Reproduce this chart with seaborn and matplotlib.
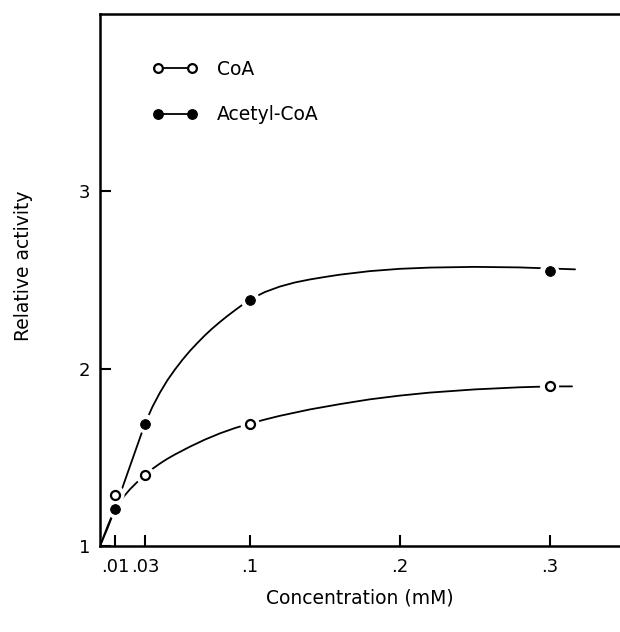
import matplotlib
matplotlib.use("Agg")
import matplotlib.pyplot as plt
from matplotlib.lines import Line2D
import seaborn as sns
import pandas as pd

# measured points
conc = [0.01, 0.03, 0.1, 0.3]
coa_vals = [1.29, 1.40, 1.69, 1.90]
acetyl_vals = [1.21, 1.69, 2.39, 2.55]

# hand-drawn fitted curves
coa_curve_x = [0.0, 0.005, 0.01, 0.015, 0.02, 0.025, 0.03, 0.035, 0.04, 0.045, 0.05, 0.06,
               0.07, 0.08, 0.09, 0.1, 0.11, 0.12, 0.14, 0.16, 0.18, 0.2, 0.22, 0.25,
               0.28, 0.3, 0.315]
coa_curve_y = [1.0, 1.11, 1.21, 1.27, 1.32, 1.362, 1.40, 1.435, 1.465, 1.492, 1.516, 1.56,
               1.60, 1.635, 1.665, 1.69, 1.713, 1.734, 1.77, 1.80, 1.827, 1.848, 1.865, 1.883,
               1.895, 1.90, 1.90]
acetyl_curve_x = [0.0, 0.005, 0.01, 0.02, 0.03, 0.035, 0.04, 0.045, 0.05, 0.055, 0.06, 0.065,
                  0.07, 0.075, 0.08, 0.085, 0.09, 0.095, 0.1, 0.11, 0.12, 0.13, 0.14, 0.15,
                  0.16, 0.18, 0.2, 0.22, 0.25, 0.28, 0.3, 0.317]
acetyl_curve_y = [1.0, 1.10, 1.21, 1.45, 1.69, 1.785, 1.865, 1.935, 1.995, 2.05, 2.10, 2.145,
                  2.188, 2.227, 2.263, 2.297, 2.329, 2.36, 2.39, 2.432, 2.463, 2.486, 2.503, 2.517,
                  2.53, 2.55, 2.563, 2.57, 2.574, 2.571, 2.565, 2.56]

xticks = [0.01, 0.03, 0.1, 0.2, 0.3]
xtick_labels = [".01", ".03", ".1", ".2", ".3"]
yticks = [1, 2, 3]
ytick_labels = ["1", "2", "3"]

sns.set_style("white")
plt.rcParams['font.family'] = ['DejaVu Sans']
plt.rcParams['text.color'] = 'black'

fig = plt.figure(figsize=(6.2, 6.32), dpi=100)
ax = fig.add_axes([100 / 620, 86 / 632, 520 / 620, (546 - 14) / 632])

df_coa = pd.DataFrame({"x": coa_curve_x, "y": coa_curve_y})
df_ac = pd.DataFrame({"x": acetyl_curve_x, "y": acetyl_curve_y})
sns.lineplot(data=df_coa, x="x", y="y", ax=ax, color="black", lw=1.3, sort=False, zorder=2)
sns.lineplot(data=df_ac, x="x", y="y", ax=ax, color="black", lw=1.3, sort=False, zorder=2)

pts = pd.DataFrame({"x": conc + conc,
                    "y": coa_vals + acetyl_vals,
                    "s": ["CoA"] * 4 + ["Acetyl-CoA"] * 4})
# white halos create the gaps in the curves around the points
sns.scatterplot(data=pts, x="x", y="y", ax=ax, s=190, color="white", edgecolor="none",
                zorder=3, legend=False)
sns.scatterplot(data=pts[pts.s == "CoA"], x="x", y="y", ax=ax, s=42, facecolor="white",
                edgecolor="black", linewidth=1.6, zorder=4, legend=False)
sns.scatterplot(data=pts[pts.s == "Acetyl-CoA"], x="x", y="y", ax=ax, s=50, color="black",
                edgecolor="black", zorder=4, legend=False)

ax.set_xlim(0, 0.347)
ax.set_ylim(1, 4)
ax.set_xticks(xticks)
ax.set_xticklabels(xtick_labels)
ax.set_yticks(yticks)
ax.set_yticklabels(ytick_labels)
ax.tick_params(axis="both", direction="in", length=8, width=1.5, labelsize=13,
               colors="black", bottom=True, left=True)
ax.tick_params(axis="x", pad=9)
ax.tick_params(axis="y", pad=7)
for side in ["left", "bottom", "top"]:
    ax.spines[side].set_visible(True)
    ax.spines[side].set_linewidth(1.8)
    ax.spines[side].set_color("black")
ax.spines["right"].set_visible(False)

ax.set_xlabel("Concentration (mM)", fontsize=13.5, color="black")
ax.set_ylabel("Relative activity", fontsize=13.5, color="black")
ax.xaxis.set_label_coords(0.5, (546 - 589) / 532)
ax.yaxis.set_label_coords((33 - 100) / 520, (546 - 266) / 532)

handles = [
    Line2D([], [], color="black", lw=1.3, marker="o", markersize=6.3,
           markerfacecolor="white", markeredgecolor="black", markeredgewidth=1.6),
    Line2D([], [], color="black", lw=1.3, marker="o", markersize=6.8,
           markerfacecolor="black", markeredgecolor="black"),
]
leg = ax.legend(handles, ["CoA", "Acetyl-CoA"], loc="upper left",
                bbox_to_anchor=(152 / 620, 1 - 60 / 632), bbox_transform=fig.transFigure,
                frameon=False, numpoints=2, handlelength=2.45, handletextpad=1.0,
                labelspacing=1.4, fontsize=13.5, borderaxespad=0, borderpad=0)
for t in leg.get_texts():
    t.set_color("black")

fig.savefig("out.png", dpi=100)
